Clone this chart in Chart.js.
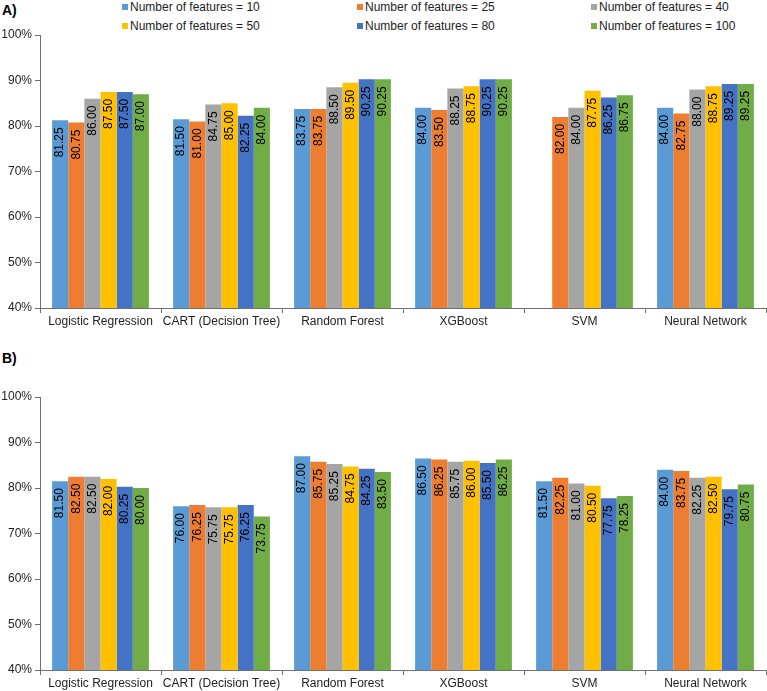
<!DOCTYPE html>
<html>
<head>
<meta charset="utf-8">
<script src="https://cdn.jsdelivr.net/npm/chart.js@4.4.0/dist/chart.umd.min.js"></script>
<style>
body { margin: 0; background: #fff; font-family: "Liberation Sans", Arial, sans-serif; }
#wrap { position: relative; width: 767px; height: 691px; overflow: hidden; }
canvas { position: absolute; left: 0; }
.panel { position: absolute; left: 2px; font-weight: bold; font-size: 14px; color: #000; }
.ley { position: absolute; font-size: 12px; color: #222; white-space: nowrap; line-height: 14px; }
.ley span { display: inline-block; width: 6px; height: 6px; margin-right: 2px; vertical-align: 1px; }
</style>
</head>
<body>
<div id="wrap">
  <div class="panel" style="top:2px">A)</div>
  <div class="panel" style="top:350px">B)</div>
  <div id="leyenda"></div>
  <canvas id="grafA" width="767" height="340" style="top:0"></canvas>
  <canvas id="grafB" width="767" height="351" style="top:340px"></canvas>
</div>
<script>
var modelos = ['Logistic Regression', 'CART (Decision Tree)', 'Random Forest', 'XGBoost', 'SVM', 'Neural Network'];
var numFeatures = [10, 25, 40, 50, 80, 100];
var colores = ['#5B9BD5', '#ED7D31', '#A5A5A5', '#FFC000', '#4472C4', '#70AD47'];
var ticksY = [40, 50, 60, 70, 80, 90, 100];

// panel A)
var f10A  = [81.25, 81.50, 83.75, 84.00, null,  84.00];
var f25A  = [80.75, 81.00, 83.75, 83.50, 82.00, 82.75];
var f40A  = [86.00, 84.75, 88.50, 88.25, 84.00, 88.00];
var f50A  = [87.50, 85.00, 89.50, 88.75, 87.75, 88.75];
var f80A  = [87.50, 82.25, 90.25, 90.25, 86.25, 89.25];
var f100A = [87.00, 84.00, 90.25, 90.25, 86.75, 89.25];

// panel B)
var f10B  = [81.50, 76.00, 87.00, 86.50, 81.50, 84.00];
var f25B  = [82.50, 76.25, 85.75, 86.25, 82.25, 83.75];
var f40B  = [82.50, 75.75, 85.25, 85.75, 81.00, 82.25];
var f50B  = [82.00, 75.75, 84.75, 86.00, 80.50, 82.50];
var f80B  = [80.25, 76.25, 84.25, 85.50, 77.75, 79.75];
var f100B = [80.00, 73.75, 83.50, 86.25, 78.25, 80.75];

var fuente = '"Liberation Sans", Arial, sans-serif';
var colorEje = '#707070';

// legend (html, 3 columns x 2 rows)
var leyX = [122, 357, 591];
var leyY = [0, 19];
var ley = document.getElementById('leyenda');
for (var i = 0; i < numFeatures.length; i++) {
  var d = document.createElement('div');
  d.className = 'ley';
  d.style.left = leyX[i % 3] + 'px';
  d.style.top = leyY[Math.floor(i / 3)] + 'px';
  d.innerHTML = '<span style="background:' + colores[i] + '"></span>Number of features = ' + numFeatures[i];
  ley.appendChild(d);
}

// vertical value labels inside the top of each bar
var etiquetas = {
  id: 'etiquetas',
  afterDatasetsDraw: function(chart) {
    var ctx = chart.ctx;
    ctx.save();
    ctx.font = '12px ' + fuente;
    ctx.fillStyle = '#000';
    ctx.textAlign = 'right';
    ctx.textBaseline = 'middle';
    chart.data.datasets.forEach(function(ds, i) {
      var meta = chart.getDatasetMeta(i);
      meta.data.forEach(function(bar, j) {
        var v = ds.data[j];
        if (v == null) return;
        ctx.save();
        ctx.translate(bar.x, bar.y + 7);
        ctx.rotate(-Math.PI / 2);
        ctx.fillText(v.toFixed(2), 0, 0);
        ctx.restore();
      });
    });
    ctx.restore();
  }
};

function crearDatos(series) {
  var datasets = [];
  for (var i = 0; i < series.length; i++) {
    datasets.push({
      label: 'Number of features = ' + numFeatures[i],
      data: series[i],
      backgroundColor: colores[i],
      borderWidth: 0,
      barPercentage: 1,
      categoryPercentage: 0.8
    });
  }
  return { labels: modelos, datasets: datasets };
}

function crearOpciones(padTop, altoX) {
  return {
    responsive: false,
    animation: false,
    layout: { padding: { top: padTop, right: 1, left: 0, bottom: 0 } },
    plugins: { legend: { display: false }, tooltip: { enabled: false } },
    scales: {
      x: {
        afterFit: function(s) { s.height = altoX; },
        grid: { display: true, drawOnChartArea: false, drawTicks: true, tickLength: 5, color: colorEje, offset: true },
        border: { display: true, color: colorEje, width: 1 },
        ticks: { color: '#222', font: { size: 12, family: fuente }, padding: 1, maxRotation: 0, autoSkip: false }
      },
      y: {
        min: ticksY[0],
        max: ticksY[ticksY.length - 1],
        afterFit: function(s) { s.width = 40; },
        afterBuildTicks: function(s) { s.ticks = ticksY.map(function(v) { return { value: v }; }); },
        grid: { display: true, drawOnChartArea: false, drawTicks: true, tickLength: 5, color: colorEje },
        border: { display: true, color: colorEje, width: 1 },
        ticks: {
          color: '#222',
          font: { size: 12, family: fuente },
          padding: 3,
          callback: function(v) { return v + '%'; }
        }
      }
    }
  };
}

new Chart(document.getElementById('grafA').getContext('2d'), {
  type: 'bar',
  data: crearDatos([f10A, f25A, f40A, f50A, f80A, f100A]),
  options: crearOpciones(35, 32),
  plugins: [etiquetas]
});

new Chart(document.getElementById('grafB').getContext('2d'), {
  type: 'bar',
  data: crearDatos([f10B, f25B, f40B, f50B, f80B, f100B]),
  options: crearOpciones(57, 21),
  plugins: [etiquetas]
});
</script>
</body>
</html>
